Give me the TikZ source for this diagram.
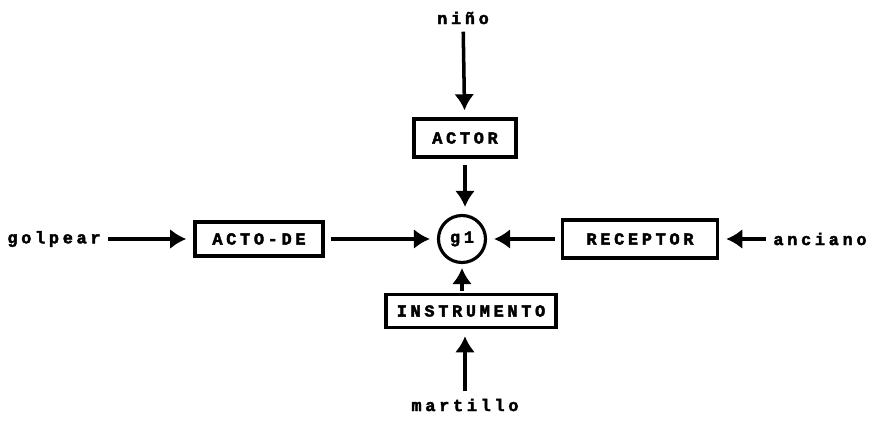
\documentclass[tikz,border=0pt]{standalone}
\usepackage{fontspec}
\newfontfamily\cdfont[LetterSpace=22,BoldFeatures={FakeBold=2.5}]{Liberation Mono}
\usetikzlibrary{arrows.meta,positioning}

\begin{document}
\begin{tikzpicture}[x=0.05cm,y=-0.05cm]
\tikzstyle{cdtext} = [font=\cdfont\bfseries\fontsize{24}{28}\selectfont, inner sep=2pt]
\tikzstyle{cdbox} = [cdtext, draw, line width=5pt, inner sep=0pt, align=center]
\tikzstyle{cdarrow} = [line width=5pt, -{Latex[length=0.8cm,width=1cm]},
   shorten >=0.35cm, shorten <=0.3cm]
\useasboundingbox (0,0) rectangle (881,441);

\node[cdtext] at (463,18) (nino){niño};
\node[cdbox, minimum width=5.1cm, minimum height=1.9cm] at (465,138) (actor){ACTOR};

\node[draw, circle, line width=4.5pt, minimum size=2.35cm, inner sep=0pt,
      font=\cdfont\bfseries\fontsize{24}{28}\selectfont] at (462,239) (g1){g1};

\node[cdtext] at (54,239) (golpear){golpear};
\node[cdbox, minimum width=6.4cm, minimum height=1.7cm] at (259,239) (actode){ACTO-DE};

\node[cdbox, minimum width=7.75cm, minimum height=1.9cm] at (640,239) (receptor){RECEPTOR};
\node[cdtext] at (820,239) (anciano){anciano};

\node[cdbox, minimum width=8.5cm, minimum height=1.65cm] at (471,311) (instr){INSTRUMENTO};
\node[cdtext] at (465,405) (martillo){martillo};

\draw [cdarrow](nino) -- (actor);
\draw [cdarrow](actor) -- (actor|-g1.north);
\draw [cdarrow](golpear) -- (actode);
\draw [cdarrow](actode) -- (g1);
\draw [cdarrow](receptor) -- (g1);
\draw [cdarrow](anciano) -- (receptor);
\draw [cdarrow, shorten <=0.1cm, shorten >=0.2cm](instr.north-|g1.south) -- (g1.south);
\draw [cdarrow](martillo) -- (martillo|-instr.south);
\end{tikzpicture}
\end{document}
